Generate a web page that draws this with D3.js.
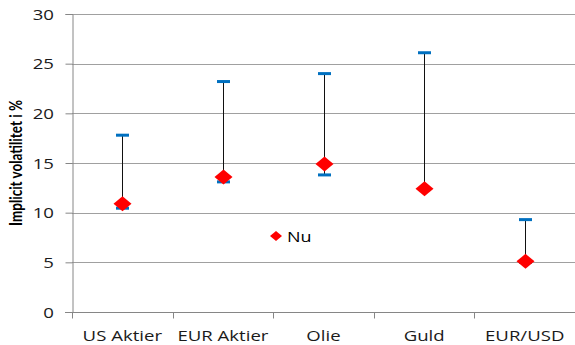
<!DOCTYPE html>
<html>
<head>
<meta charset="utf-8">
<script src="https://cdn.jsdelivr.net/npm/d3@7"></script>
<style>
  html, body { margin: 0; padding: 0; background: #fff; }
  svg { display: block; font-family: "Open Sans", Lato, sans-serif; }
</style>
</head>
<body>
<svg id="chart" width="575" height="345"></svg>
<script>
// Implied volatility ranges per asset class
const categories = ["US Aktier", "EUR Aktier", "Olie", "Guld", "EUR/USD"];
const highValues = [17.8, 23.2, 24.0, 26.1, 9.3];
const lowValues  = [10.45, 13.1, 13.8, 12.4, 5.0];
const nowValues  = [10.9, 13.6, 14.9, 12.4, 5.1];
const yTicks = [0, 5, 10, 15, 20, 25, 30];
const legendLabel = "Nu";
const yAxisTitle = "Implicit volatilitet i %";

const svg = d3.select("#chart");
const margin = { left: 72, right: 0, top: 14, bottom: 33 };
const W = 575, H = 345;
const stretch = 1.24; // horizontal widening of the label glyphs

const x = d3.scaleBand().domain(categories).range([margin.left, W - margin.right]);
const y = d3.scaleLinear().domain([0, 30]).range([H - margin.bottom, margin.top]);

// Horizontal gridlines
svg.append("g")
  .selectAll("line")
  .data(yTicks.filter(d => d > 0))
  .join("line")
  .attr("x1", margin.left).attr("x2", W)
  .attr("y1", d => Math.round(y(d)) + 0.5).attr("y2", d => Math.round(y(d)) + 0.5)
  .attr("stroke", "#a0a0a0").attr("stroke-width", 1);

// Y axis line and ticks
const yAxis = svg.append("g")
  .attr("transform", `translate(${margin.left + 0.5},0)`)
  .call(d3.axisLeft(y).tickValues(yTicks).tickSize(7).tickFormat(""));
yAxis.select(".domain").attr("stroke", "#868686");
yAxis.selectAll(".tick line").attr("stroke", "#868686");

// Y tick labels
svg.append("g").selectAll("text")
  .data(yTicks).join("text")
  .attr("transform", d => `translate(54,${y(d) + 5.5}) scale(${stretch},1)`)
  .attr("text-anchor", "end")
  .attr("font-size", 15)
  .attr("fill", "#1a1a1a")
  .text(d => d);

// X axis with ticks at band boundaries
const xAxisG = svg.append("g")
  .attr("transform", `translate(0,${Math.round(y(0)) + 0.5})`);
xAxisG.append("line")
  .attr("x1", margin.left - 7).attr("x2", W)
  .attr("stroke", "#868686");
xAxisG.selectAll("line.tk")
  .data(categories)
  .join("line").attr("class", "tk")
  .attr("x1", d => Math.round(x(d)) + 0.5).attr("x2", d => Math.round(x(d)) + 0.5)
  .attr("y1", 0).attr("y2", 6)
  .attr("stroke", "#868686");
xAxisG.selectAll("text")
  .data(categories)
  .join("text")
  .attr("transform", d => `translate(${x(d) + x.bandwidth() / 2},28) scale(${stretch},1)`)
  .attr("text-anchor", "middle")
  .attr("font-size", 15)
  .attr("fill", "#1a1a1a")
  .text(d => d);

// Y axis title
svg.append("text")
  .attr("transform", `translate(22,${(y(0) + y(30)) / 2}) rotate(-90) scale(1,${stretch})`)
  .attr("text-anchor", "middle")
  .attr("font-size", 13.5)
  .attr("font-weight", "bold")
  .attr("font-family", "Lato, 'Open Sans', sans-serif")
  .attr("fill", "#000")
  .text(yAxisTitle);

const data = categories.map((c, i) => ({ c, hi: highValues[i], lo: lowValues[i], now: nowValues[i] }));
const cx = d => Math.round(x(d.c) + x.bandwidth() / 2) + 0.5;

// Range lines
svg.append("g").selectAll("line")
  .data(data).join("line")
  .attr("x1", cx).attr("x2", cx)
  .attr("y1", d => y(d.hi)).attr("y2", d => y(d.lo))
  .attr("stroke", "#111").attr("stroke-width", 1);

// High / low caps
const caps = data.flatMap(d => [{ c: d.c, v: d.hi }, { c: d.c, v: d.lo }]);
svg.append("g").selectAll("rect")
  .data(caps).join("rect")
  .attr("x", d => cx(d) - 6.5)
  .attr("y", d => y(d.v) - 1.5)
  .attr("width", 13).attr("height", 3)
  .attr("fill", "#0070c0");

// Current value diamonds
const diamond = (cxp, cyp, w, h) =>
  `M${cxp - w / 2},${cyp}L${cxp},${cyp - h / 2}L${cxp + w / 2},${cyp}L${cxp},${cyp + h / 2}Z`;
svg.append("g").selectAll("path")
  .data(data).join("path")
  .attr("d", d => diamond(cx(d), y(d.now), 18, 15))
  .attr("fill", "#ff0000");

// Legend
const lg = svg.append("g").attr("transform", "translate(276,236)");
lg.append("path").attr("d", diamond(0, 0, 12, 10)).attr("fill", "#ff0000");
lg.append("text").attr("transform", `translate(11,5.5) scale(${stretch},1)`)
  .attr("font-size", 14.5).attr("fill", "#000").text(legendLabel);
</script>
</body>
</html>
